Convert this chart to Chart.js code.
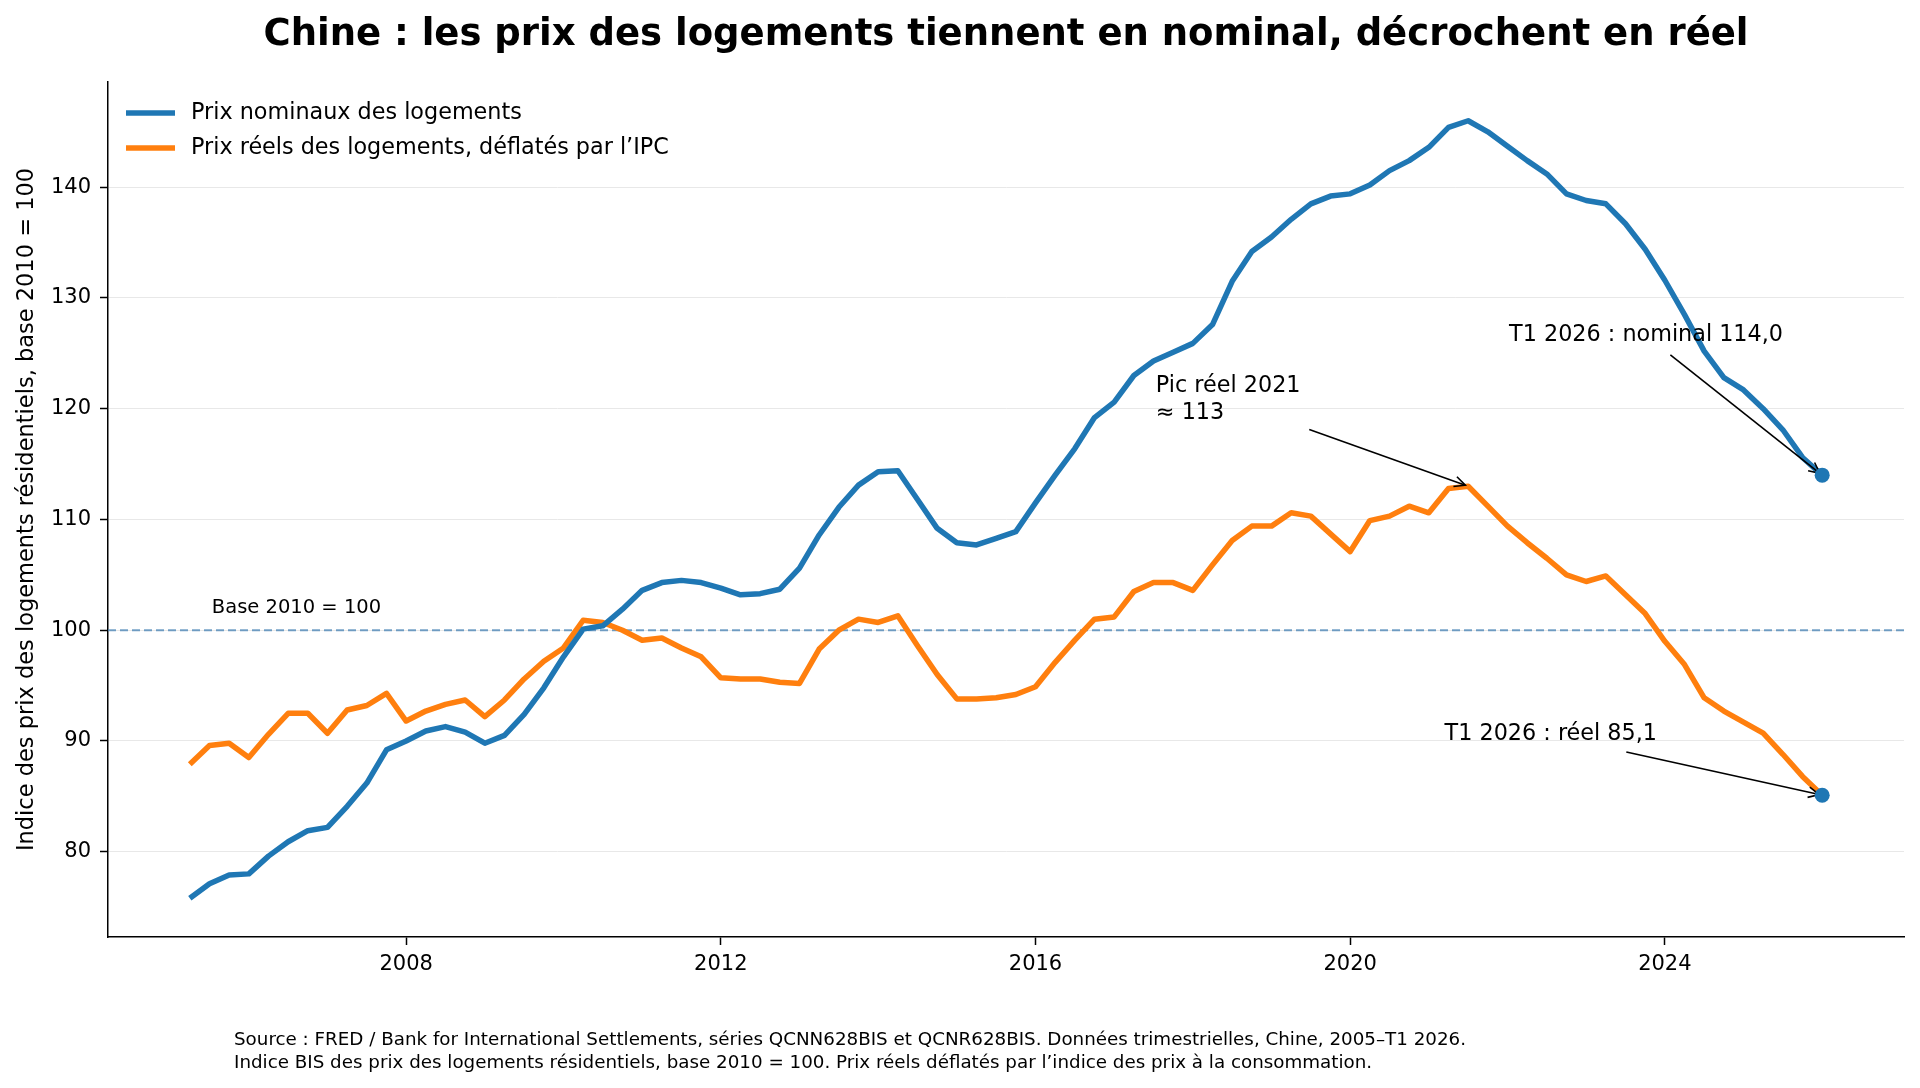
<!DOCTYPE html>
<html>
<head>
<meta charset="utf-8">
<script src="https://cdn.jsdelivr.net/npm/chart.js@4"></script>
<style>
  html, body { margin: 0; padding: 0; background: #fff; }
  #wrap { width: 1920px; height: 1088px; }
</style>
</head>
<body>
<div id="wrap"><canvas id="chart" width="1920" height="1088"></canvas></div>
<script>
// trimestres (T1 = janvier)
const quarters = [
  "2005-T2","2005-T3","2005-T4",
  "2006-T1","2006-T2","2006-T3","2006-T4",
  "2007-T1","2007-T2","2007-T3","2007-T4",
  "2008-T1","2008-T2","2008-T3","2008-T4",
  "2009-T1","2009-T2","2009-T3","2009-T4",
  "2010-T1","2010-T2","2010-T3","2010-T4",
  "2011-T1","2011-T2","2011-T3","2011-T4",
  "2012-T1","2012-T2","2012-T3","2012-T4",
  "2013-T1","2013-T2","2013-T3","2013-T4",
  "2014-T1","2014-T2","2014-T3","2014-T4",
  "2015-T1","2015-T2","2015-T3","2015-T4",
  "2016-T1","2016-T2","2016-T3","2016-T4",
  "2017-T1","2017-T2","2017-T3","2017-T4",
  "2018-T1","2018-T2","2018-T3","2018-T4",
  "2019-T1","2019-T2","2019-T3","2019-T4",
  "2020-T1","2020-T2","2020-T3","2020-T4",
  "2021-T1","2021-T2","2021-T3","2021-T4",
  "2022-T1","2022-T2","2022-T3","2022-T4",
  "2023-T1","2023-T2","2023-T3","2023-T4",
  "2024-T1","2024-T2","2024-T3","2024-T4",
  "2025-T1","2025-T2","2025-T3","2025-T4",
  "2026-T1"
];

const nominal = [
  75.8, 77.1, 77.9,
  78.0, 79.6, 80.9, 81.9,
  82.2, 84.1, 86.2, 89.2,
  90.0, 90.9, 91.3, 90.8,
  89.8, 90.5, 92.4, 94.8,
  97.6, 100.1, 100.4, 101.9,
  103.6, 104.3, 104.5, 104.3,
  103.8, 103.2, 103.3, 103.7,
  105.6, 108.6, 111.1, 113.1,
  114.3, 114.4, 111.8, 109.2,
  107.9, 107.7, 108.3, 108.9,
  111.5, 114.0, 116.4, 119.2,
  120.6, 123.0, 124.3, 125.1,
  125.9, 127.6, 131.5, 134.2,
  135.5, 137.1, 138.5, 139.2,
  139.4, 140.2, 141.5, 142.4,
  143.6, 145.4, 146.0, 145.0,
  143.7, 142.4, 141.2, 139.4,
  138.8, 138.5, 136.7, 134.4,
  131.6, 128.5, 125.2, 122.8,
  121.7, 120.0, 118.1, 115.6,
  114.0
];

const real = [
  87.9, 89.6, 89.8,
  88.5, 90.6, 92.5, 92.5,
  90.7, 92.8, 93.2, 94.3,
  91.8, 92.7, 93.3, 93.7,
  92.2, 93.7, 95.6, 97.2,
  98.4, 100.9, 100.7, 100.0,
  99.1, 99.3, 98.4, 97.6,
  95.7, 95.6, 95.6, 95.3,
  95.2, 98.3, 100.0, 101.0,
  100.7, 101.3, 98.6, 96.0,
  93.8, 93.8, 93.9, 94.2,
  94.9, 97.1, 99.1, 101.0,
  101.2, 103.5, 104.3, 104.3,
  103.6, 105.9, 108.1, 109.4,
  109.4, 110.6, 110.3, 108.7,
  107.1, 109.9, 110.3, 111.2,
  110.6, 112.8, 113.0, 111.2,
  109.4, 107.9, 106.5, 105.0,
  104.4, 104.9, 103.2, 101.5,
  99.0, 96.9, 93.9, 92.7,
  91.7, 90.7, 88.8, 86.8,
  85.1
];

const xTicks = [2008, 2012, 2016, 2020, 2024];
const yTicks = [80, 90, 100, 110, 120, 130, 140];

const BLUE = "#1f77b4";
const ORANGE = "#ff7f0e";
const FONT = "'DejaVu Sans', sans-serif";

function qToX(q) {
  const parts = q.split("-T");
  return Number(parts[0]) + (Number(parts[1]) - 1) / 4;
}
const xs = quarters.map(qToX);
const last = quarters.length - 1;
const peakIdx = real.indexOf(Math.max(...real));

function arrow(ctx, x0, y0, x1, y1) {
  const a = Math.atan2(y1 - y0, x1 - x0);
  const ex = x1 - 3 * Math.cos(a), ey = y1 - 3 * Math.sin(a);
  ctx.save();
  ctx.strokeStyle = "#000";
  ctx.lineWidth = 1.6;
  ctx.beginPath();
  ctx.moveTo(x0, y0);
  ctx.lineTo(ex, ey);
  ctx.stroke();
  const hl = 12, hw = 0.45;
  ctx.beginPath();
  ctx.moveTo(ex - hl * Math.cos(a - hw), ey - hl * Math.sin(a - hw));
  ctx.lineTo(ex, ey);
  ctx.lineTo(ex - hl * Math.cos(a + hw), ey - hl * Math.sin(a + hw));
  ctx.stroke();
  ctx.restore();
}

const deco = {
  id: "deco",
  beforeDatasetsDraw(chart) {
    const { ctx, chartArea, scales } = chart;
    const y = scales.y.getPixelForValue(100);
    ctx.save();
    ctx.strokeStyle = "rgba(70,130,180,0.75)";
    ctx.lineWidth = 2;
    ctx.setLineDash([8, 4]);
    ctx.beginPath();
    ctx.moveTo(chartArea.left, y);
    ctx.lineTo(chartArea.right, y);
    ctx.stroke();
    ctx.restore();
  },
  afterDatasetsDraw(chart) {
    const { ctx, scales } = chart;
    const px = v => scales.x.getPixelForValue(v);
    const py = v => scales.y.getPixelForValue(v);
    ctx.save();
    ctx.fillStyle = "#000";
    ctx.textBaseline = "middle";
    ctx.textAlign = "left";

    ctx.font = "19.5px " + FONT;
    ctx.fillText("Base 2010 = 100", px(2005.53), py(102.05));

    ctx.font = "22.3px " + FONT;
    ctx.fillText("Pic réel 2021", px(2017.53), py(122.0));
    ctx.fillText("≈ 113", px(2017.53), py(119.56));
    arrow(ctx, px(2019.48), py(118.12), px(xs[peakIdx]), py(real[peakIdx]));

    ctx.fillText("T1 2026 : nominal 114,0", px(2022.02), py(126.65));
    arrow(ctx, px(2024.07), py(124.87), px(xs[last]), py(nominal[last]));

    ctx.fillText("T1 2026 : réel 85,1", px(2021.2), py(90.58));
    arrow(ctx, px(2023.51), py(89.0), px(xs[last]), py(real[last]));

    // points finaux
    ctx.fillStyle = BLUE;
    [nominal[last], real[last]].forEach(v => {
      ctx.beginPath();
      ctx.arc(px(xs[last]), py(v), 7.5, 0, Math.PI * 2);
      ctx.fill();
    });

    // légende
    const items = [
      ["Prix nominaux des logements", BLUE],
      ["Prix réels des logements, déflatés par l’IPC", ORANGE]
    ];
    ctx.font = "22.3px " + FONT;
    items.forEach((it, i) => {
      const yy = 113 + i * 35;
      ctx.strokeStyle = it[1];
      ctx.lineWidth = 5.5;
      ctx.beginPath();
      ctx.moveTo(126, yy);
      ctx.lineTo(175, yy);
      ctx.stroke();
      ctx.fillStyle = "#000";
      ctx.fillText(it[0], 191, yy);
    });
    ctx.restore();
  },
  afterDraw(chart) {
    const { ctx, chartArea } = chart;
    ctx.save();
    ctx.fillStyle = "#000";
    ctx.textBaseline = "middle";
    ctx.textAlign = "center";
    ctx.font = "bold 37px " + FONT;
    ctx.fillText("Chine : les prix des logements tiennent en nominal, décrochent en réel",
      (chartArea.left + chartArea.right) / 2, 35);

    ctx.save();
    ctx.translate(27, (chartArea.top + chartArea.bottom) / 2);
    ctx.rotate(-Math.PI / 2);
    ctx.font = "22.5px " + FONT;
    ctx.fillText("Indice des prix des logements résidentiels, base 2010 = 100", 0, 0);
    ctx.restore();

    ctx.textAlign = "left";
    ctx.font = "18.3px " + FONT;
    ctx.fillText("Source : FRED / Bank for International Settlements, séries QCNN628BIS et QCNR628BIS. Données trimestrielles, Chine, 2005–T1 2026.", 234, 1040);
    ctx.fillText("Indice BIS des prix des logements résidentiels, base 2010 = 100. Prix réels déflatés par l’indice des prix à la consommation.", 234, 1063);
    ctx.restore();
  }
};

new Chart(document.getElementById("chart"), {
  type: "line",
  data: {
    datasets: [
      {
        label: "Prix nominaux des logements",
        data: xs.map((x, i) => ({ x: x, y: nominal[i] })),
        borderColor: BLUE,
        borderWidth: 5.5,
        pointRadius: 0,
        tension: 0,
        borderJoinStyle: "round"
      },
      {
        label: "Prix réels des logements, déflatés par l’IPC",
        data: xs.map((x, i) => ({ x: x, y: real[i] })),
        borderColor: ORANGE,
        borderWidth: 5.5,
        pointRadius: 0,
        tension: 0,
        borderJoinStyle: "round"
      }
    ]
  },
  options: {
    responsive: false,
    animation: false,
    devicePixelRatio: 1,
    layout: { padding: { left: 0, top: 82, right: 16, bottom: 0 } },
    plugins: { legend: { display: false }, title: { display: false }, tooltip: { enabled: false } },
    scales: {
      x: {
        type: "linear",
        min: 2004.21,
        max: 2027.04,
        afterBuildTicks: s => { s.ticks = xTicks.map(v => ({ value: v })); },
        afterFit: s => { s.height = 151; },
        grid: { drawOnChartArea: false, tickLength: 8, tickColor: "#000", tickWidth: 1.5 },
        border: { color: "#000", width: 1.5 },
        ticks: { color: "#000", padding: 7, font: { family: FONT, size: 21 }, callback: v => String(v) }
      },
      y: {
        min: 72.3,
        max: 149.5,
        afterBuildTicks: s => { s.ticks = yTicks.map(v => ({ value: v })); },
        afterFit: s => { s.width = 108; },
        grid: { color: "#e8e8e8", lineWidth: 1, tickLength: 8, tickColor: "#000", tickWidth: 1.5 },
        border: { color: "#000", width: 1.5 },
        ticks: { color: "#000", padding: 9, font: { family: FONT, size: 21 }, callback: v => String(v) }
      }
    }
  },
  plugins: [deco]
});
</script>
</body>
</html>
